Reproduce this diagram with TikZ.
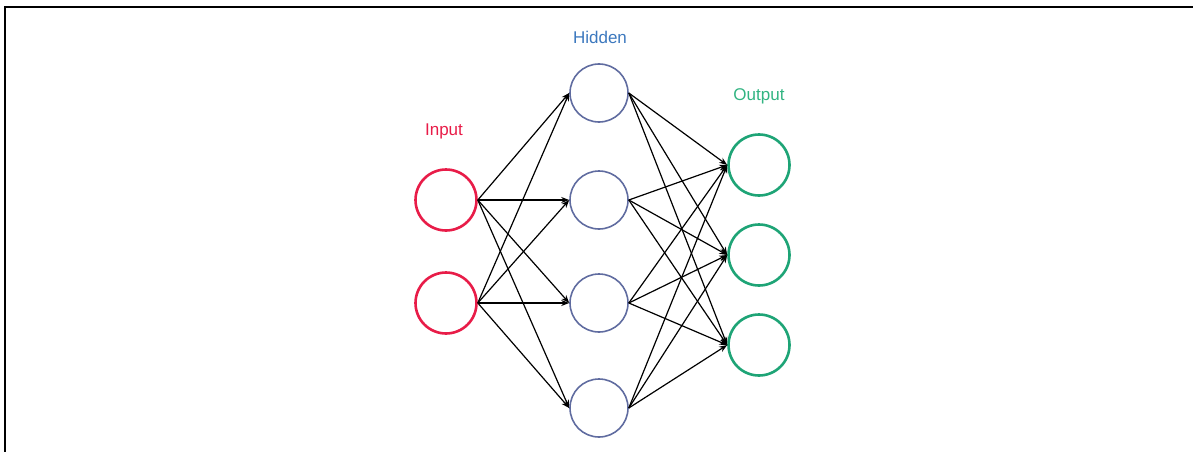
\documentclass[tikz,border=0pt]{standalone}
\usepackage{fontspec}
\setmainfont{Liberation Sans}
\usetikzlibrary{arrows.meta}

\definecolor{inred}{RGB}{232,28,72}
\definecolor{hidblue}{RGB}{96,108,160}
\definecolor{outgreen}{RGB}{30,164,118}
\definecolor{hidlabel}{RGB}{60,120,190}
\definecolor{outlabel}{RGB}{50,180,130}

\begin{document}
\begin{tikzpicture}[x=1pt,y=-1pt,
  neuron/.style={draw,circle,inner sep=0pt},
  inneuron/.style={neuron,inred,line width=2.6pt,minimum size=61pt},
  hidneuron/.style={neuron,hidblue,line width=1.6pt,minimum size=58pt},
  outneuron/.style={neuron,outgreen,line width=2.6pt,minimum size=61pt},
  layername/.style={font=\fontsize{17}{19}\selectfont},
  wire/.style={-{Stealth[length=8pt,width=6pt]},line width=1.2pt}]
\useasboundingbox (0,0) rectangle (1193,452);
\draw[line width=2.6pt] (5,452) -- (5,7) -- (1193,7);

% layers
\node[inneuron] (in1) at (446,200) {};
\node[inneuron] (in2) at (446,303) {};

\node[hidneuron] (hid1) at (599,93) {};
\node[hidneuron] (hid2) at (599,200) {};
\node[hidneuron] (hid3) at (599,303) {};
\node[hidneuron] (hid4) at (599,408) {};

\node[outneuron] (out1) at (759,165) {};
\node[outneuron] (out2) at (759,255) {};
\node[outneuron] (out3) at (759,345) {};

\node[layername,inred] (inlabel) at (444,131) {Input};
\node[layername,hidlabel] (hidlabel) at (600,37) {Hidden};
\node[layername,outlabel] (outlabel) at (759,96) {Output};

% input -> hidden
\draw[wire] (in1.east) -- (hid1.west);
\draw[wire] (in1.east) -- (hid2.west);
\draw[wire] (in1.east) -- (hid3.west);
\draw[wire] (in1.east) -- (hid4.west);
\draw[wire] (in2.east) -- (hid1.west);
\draw[wire] (in2.east) -- (hid2.west);
\draw[wire] (in2.east) -- (hid3.west);
\draw[wire] (in2.east) -- (hid4.west);

% hidden -> output
\draw[wire] (hid1.east) -- (out1.west);
\draw[wire] (hid1.east) -- (out2.west);
\draw[wire] (hid1.east) -- (out3.west);
\draw[wire] (hid2.east) -- (out1.west);
\draw[wire] (hid2.east) -- (out2.west);
\draw[wire] (hid2.east) -- (out3.west);
\draw[wire] (hid3.east) -- (out1.west);
\draw[wire] (hid3.east) -- (out2.west);
\draw[wire] (hid3.east) -- (out3.west);
\draw[wire] (hid4.east) -- (out1.west);
\draw[wire] (hid4.east) -- (out2.west);
\draw[wire] (hid4.east) -- (out3.west);

\end{tikzpicture}
\end{document}
